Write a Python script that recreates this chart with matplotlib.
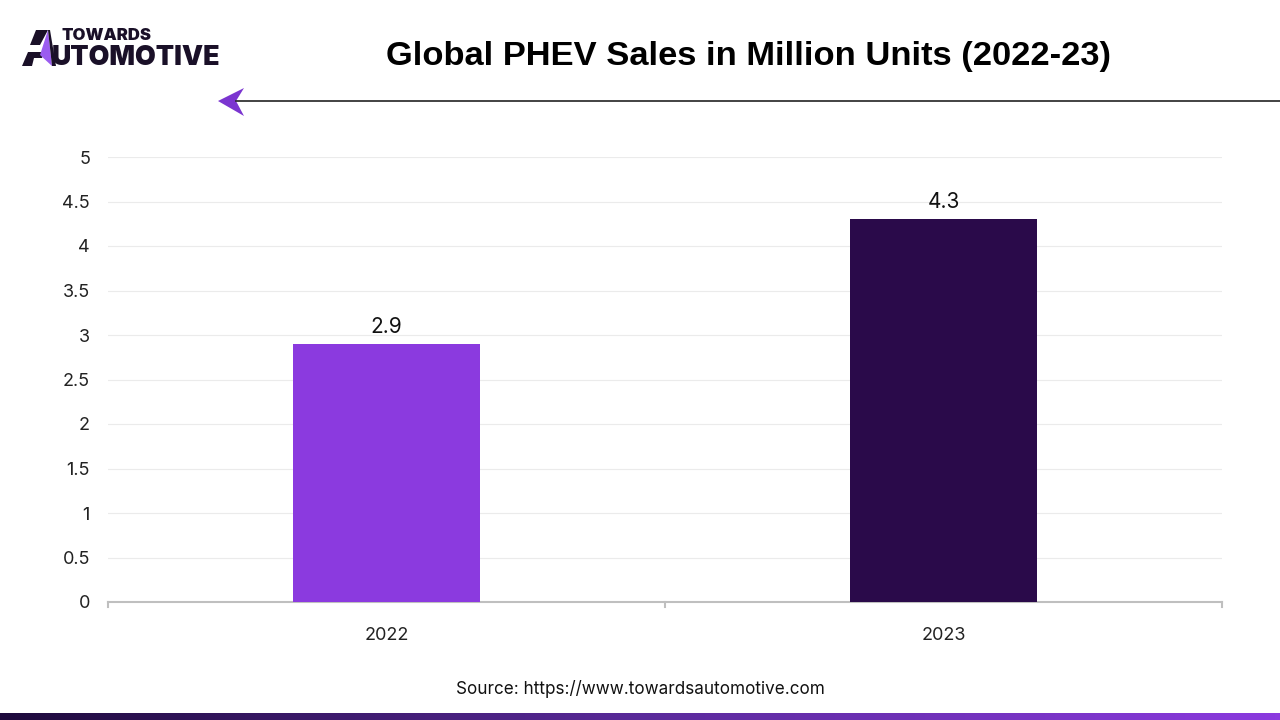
import matplotlib
matplotlib.use("Agg")
import matplotlib.pyplot as plt
import numpy as np
from matplotlib.patches import Polygon
from matplotlib.colors import LinearSegmentedColormap

categories = ["2022", "2023"]
values = [2.9, 4.3]
bar_colors = ["#8B3ADF", "#2A0A4A"]
yticks = [0, 0.5, 1, 1.5, 2, 2.5, 3, 3.5, 4, 4.5, 5]
ytick_labels = ["0", "0.5", "1", "1.5", "2", "2.5", "3", "3.5", "4", "4.5", "5"]

plt.rcParams['font.family'] = ['Inter', 'DejaVu Sans']

fig = plt.figure(figsize=(12.8, 7.2), dpi=100)
ax = fig.add_axes([108/1280, 118/720, 1114/1280, 445/720])

x = np.arange(len(categories))
ax.bar(x, values, width=0.334, color=bar_colors, zorder=3)
for xi, v in zip(x, values):
    ax.text(xi, v + 0.08, f"{v}", ha="center", va="bottom", fontsize=15, color="#111111")

ax.set_xlim(-0.5, 1.5)
ax.set_ylim(0, 5)
ax.set_yticks(yticks)
ax.set_yticklabels(ytick_labels, fontsize=13, color="#222222")
ax.yaxis.grid(True, color="#EBEBEB", linewidth=0.8, zorder=0)
ax.tick_params(axis="y", length=0, pad=13)
ax.set_xticks(x)
ax.set_xticklabels(categories, fontsize=13, color="#222222")
ax.tick_params(axis="x", length=0, pad=18)
for b in [-0.5, 0.5, 1.5]:
    ax.plot([b, b], [0, -0.06], color="#BFBFBF", lw=1.5, clip_on=False, transform=ax.transData)
for s in ["top", "right", "left"]:
    ax.spines[s].set_visible(False)
ax.spines["bottom"].set_color("#BFBFBF")
ax.spines["bottom"].set_linewidth(1.5)

# Title
fig.text(748/1280, 1 - 56/720, "Global PHEV Sales in Million Units (2022-23)",
         ha="center", va="center", fontsize=24.8, fontweight="bold", color="#000000",
         family=["Liberation Sans", "DejaVu Sans"])

# Arrow line
fig.add_artist(plt.Line2D([236/1280, 1.0], [1 - 101/720, 1 - 101/720], color="#222222", lw=1.2))
arrow = Polygon([[218/1280, 1 - 101/720], [244/1280, 1 - 88/720], [236/1280, 1 - 101/720], [244/1280, 1 - 116/720]],
                closed=True, facecolor="#7B35D0", edgecolor="none", transform=fig.transFigure)
fig.add_artist(arrow)

# Logo
def fpt(px, py):
    return [px / 1280, 1 - py / 720]

fig.text(62/1280, 1 - 36/720, "TOWARDS", ha="left", va="center", fontsize=12, fontweight="black", color="#1A1028")
fig.text(52/1280, 1 - 58/720, "UTOMOTIVE", ha="left", va="center", fontsize=19.3, fontweight="black", color="#1A1028")
dark_top = Polygon([fpt(30, 45), fpt(36, 30), fpt(48, 30), fpt(40, 45)], closed=True,
                   facecolor="#1A1028", edgecolor="none", transform=fig.transFigure)
dark_bottom = Polygon([fpt(22, 66), fpt(28, 52), fpt(44, 52), fpt(42, 58), fpt(34, 58), fpt(32, 66)], closed=True,
                      facecolor="#1A1028", edgecolor="none", transform=fig.transFigure)
purple = Polygon([fpt(48, 30), fpt(40, 55), fpt(52, 66)], closed=True,
                 facecolor="#9B5CF0", edgecolor="none", transform=fig.transFigure)
dark_right = Polygon([fpt(48, 30), fpt(52, 66), fpt(56, 66), fpt(50, 30)], closed=True,
                     facecolor="#1A1028", edgecolor="none", transform=fig.transFigure)
for p in (dark_top, dark_bottom, purple, dark_right):
    fig.add_artist(p)

# Source
fig.text(640/1280, 1 - 689/720, "Source: https://www.towardsautomotive.com", ha="center", va="center",
         fontsize=12.3, color="#111111")

# Bottom gradient bar
gax = fig.add_axes([0, 0, 1, 7/720])
grad = np.linspace(0, 1, 256).reshape(1, -1)
cmap = LinearSegmentedColormap.from_list("g", ["#1E0A3C", "#5A2A9A", "#8B3ADF"])
gax.imshow(grad, aspect="auto", cmap=cmap, extent=[0, 1, 0, 1])
gax.axis("off")

fig.savefig("out.png", dpi=100)
